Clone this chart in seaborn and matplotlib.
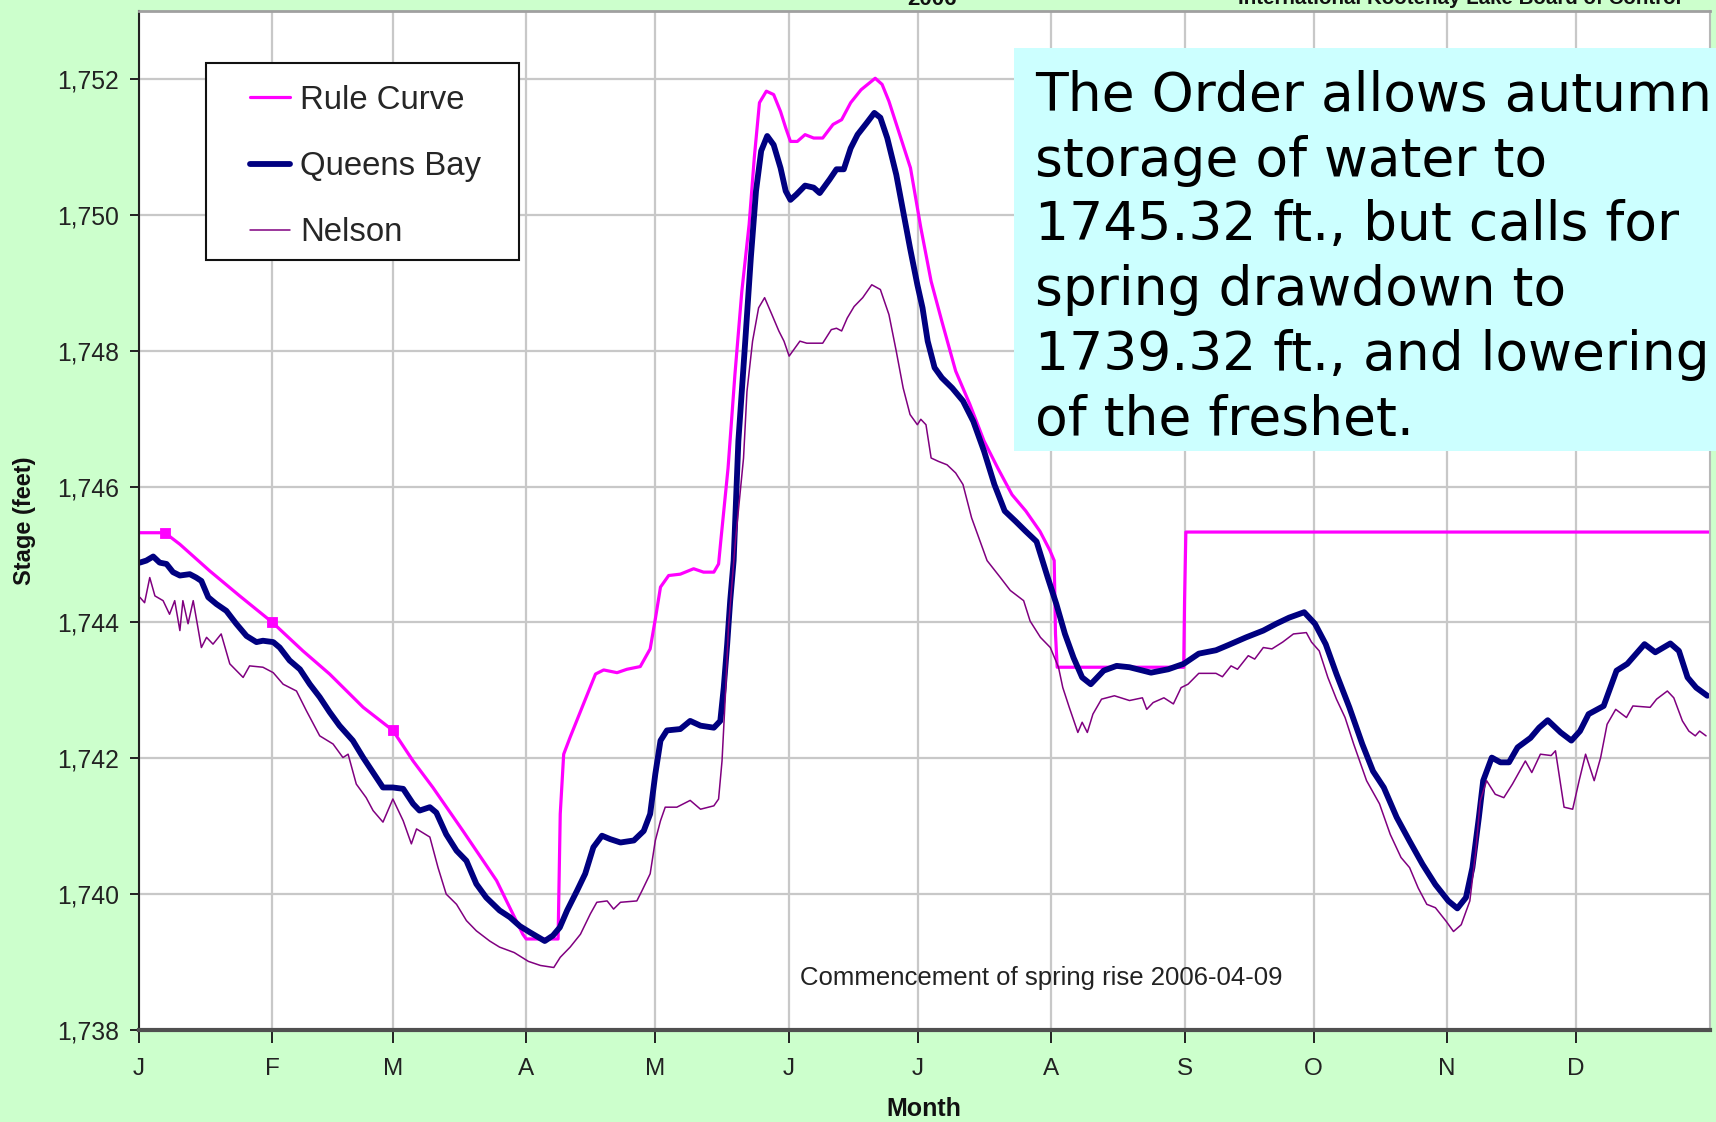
import pandas as pd
import seaborn as sns
import matplotlib.pyplot as plt
from matplotlib.patches import Rectangle
from matplotlib.ticker import FuncFormatter

# day of year (0 = Jan 1) and stage in feet
rule_days = [0, 6, 9.5, 16.4, 23.4, 31, 38.1, 44.3, 52.1, 59,
             63.7, 68.3, 75.3, 83.1, 89.2, 90, 97.4, 97.9, 98.7, 100.2,
             103.3, 106.1, 108, 111.1, 113.4, 116.5, 118.8, 120, 121.2, 123.1,
             125.8, 128.9, 131.2, 133.6, 134.7, 135.2, 136.9, 138.5, 140.1, 141.8,
             143.0, 144.2, 145.8, 147.5, 149.1, 150.3, 151.4, 153.0, 154.8, 156.8,
             158.9, 161.3, 163.3, 165.4, 167.8, 171.1, 172.7, 174.3, 176.8, 179.3,
             181.7, 184.1, 186.6, 189.8, 193.1, 196.4, 199.6, 202.9, 206.1, 209.4,
             211.7, 212.7, 213.0, 213.4, 242.8, 243.0, 243.3, 365]
rule_vals = [1745.32, 1745.32, 1745.15, 1744.76, 1744.39, 1744.00, 1743.58, 1743.24, 1742.75, 1742.41,
             1741.96, 1741.57, 1740.93, 1740.20, 1739.41, 1739.34, 1739.34, 1741.18, 1742.06, 1742.31,
             1742.80, 1743.24, 1743.30, 1743.26, 1743.31, 1743.35, 1743.61, 1744.05, 1744.52, 1744.69,
             1744.71, 1744.79, 1744.74, 1744.74, 1744.86, 1745.19, 1746.27, 1747.65, 1748.87, 1749.86,
             1750.84, 1751.65, 1751.82, 1751.77, 1751.52, 1751.28, 1751.08, 1751.08, 1751.18, 1751.13,
             1751.13, 1751.33, 1751.40, 1751.65, 1751.84, 1752.01, 1751.92, 1751.67, 1751.18, 1750.69,
             1749.81, 1749.02, 1748.43, 1747.70, 1747.21, 1746.67, 1746.27, 1745.88, 1745.64, 1745.34,
             1745.06, 1744.91, 1743.83, 1743.34, 1743.34, 1744.32, 1745.33, 1745.33]

marker_days = [6, 31, 59]
marker_vals = [1745.32, 1744.00, 1742.41]

qb_days = [0.2, 1.7, 3.3, 4.8, 6.4, 7.9, 9.5, 11.8, 13.3, 14.5,
           16.1, 18.0, 20.3, 22.6, 25.0, 27.3, 28.8, 31.2, 32.7, 35.0,
           37.4, 39.7, 42.0, 44.3, 46.6, 49.7, 52.1, 54.4, 56.7, 59.0,
           61.4, 63.7, 65.2, 67.6, 69.1, 71.4, 73.8, 76.1, 78.4, 80.7,
           83.8, 86.2, 88.5, 90.8, 94.3, 96.2, 97.8, 99.5, 101.8, 103.7,
           105.6, 107.6, 109.5, 111.9, 115.0, 117.3, 118.8, 120.0, 121.2, 122.7,
           125.8, 128.1, 130.5, 133.6, 135.1, 135.9, 136.7, 137.4, 138.2, 139.3,
           140.9, 142.2, 143.4, 144.6, 146.0, 147.5, 149.1, 150.3, 151.4, 152.8,
           154.8, 156.8, 158.2, 160.5, 162.1, 163.8, 165.4, 167.0, 169.1, 170.9,
           172.3, 173.9, 176.0, 177.6, 179.2, 180.9, 182.1, 183.3, 184.9, 186.6,
           189.0, 191.5, 193.9, 196.4, 198.8, 201.2, 203.7, 206.1, 208.6, 211.2,
           213.2, 215.2, 217.2, 219.2, 221.2, 224.2, 227.2, 230.2, 235.2, 239.2,
           242.8, 246.3, 250.3, 253.3, 257.3, 261.3, 264.3, 267.3, 270.8, 273.3,
           275.8, 278.3, 281.3, 284.3, 286.8, 289.3, 292.3, 295.3, 298.3, 301.3,
           304.3, 306.4, 308.4, 309.9, 311.4, 312.4, 314.4, 316.4, 318.4, 320.4,
           323.4, 325.4, 327.4, 330.4, 332.9, 334.9, 336.9, 340.4, 343.4, 345.9,
           349.9, 352.4, 355.9, 357.9, 359.9, 361.9, 364.5]
qb_vals = [1744.88, 1744.91, 1744.97, 1744.88, 1744.86, 1744.74, 1744.69, 1744.71, 1744.66, 1744.61,
           1744.37, 1744.27, 1744.17, 1743.98, 1743.80, 1743.71, 1743.73, 1743.71, 1743.63, 1743.44,
           1743.31, 1743.09, 1742.90, 1742.68, 1742.48, 1742.26, 1742.01, 1741.79, 1741.57, 1741.57,
           1741.55, 1741.33, 1741.23, 1741.28, 1741.20, 1740.88, 1740.64, 1740.49, 1740.15, 1739.95,
           1739.76, 1739.66, 1739.53, 1739.44, 1739.31, 1739.39, 1739.51, 1739.76, 1740.05, 1740.30,
           1740.69, 1740.86, 1740.81, 1740.76, 1740.79, 1740.93, 1741.18, 1741.77, 1742.26, 1742.41,
           1742.43, 1742.55, 1742.48, 1742.45, 1742.55, 1743.04, 1743.68, 1744.32, 1744.91, 1746.67,
           1748.14, 1749.37, 1750.35, 1750.94, 1751.16, 1751.03, 1750.69, 1750.35, 1750.22, 1750.30,
           1750.43, 1750.40, 1750.32, 1750.52, 1750.67, 1750.67, 1750.98, 1751.18, 1751.35, 1751.50,
           1751.43, 1751.13, 1750.59, 1750.05, 1749.51, 1748.97, 1748.63, 1748.14, 1747.75, 1747.60,
           1747.45, 1747.26, 1746.96, 1746.52, 1746.03, 1745.64, 1745.49, 1745.34, 1745.19, 1744.66,
           1744.27, 1743.83, 1743.48, 1743.19, 1743.09, 1743.29, 1743.36, 1743.34, 1743.26, 1743.31,
           1743.39, 1743.54, 1743.59, 1743.67, 1743.78, 1743.88, 1743.98, 1744.07, 1744.15, 1743.98,
           1743.68, 1743.24, 1742.75, 1742.21, 1741.81, 1741.57, 1741.13, 1740.78, 1740.44, 1740.14,
           1739.90, 1739.79, 1739.95, 1740.39, 1741.13, 1741.67, 1742.01, 1741.94, 1741.94, 1742.16,
           1742.30, 1742.45, 1742.56, 1742.38, 1742.26, 1742.40, 1742.65, 1742.77, 1743.29, 1743.39,
           1743.68, 1743.56, 1743.69, 1743.58, 1743.19, 1743.04, 1742.92]

nelson_days = [0.2, 1.3, 2.5, 3.7, 5.6, 7.1, 8.3, 9.5, 10.2, 11.4,
               12.6, 14.5, 15.7, 17.2, 19.1, 21.1, 24.2, 25.7, 28.8, 31.2,
               33.5, 36.6, 38.9, 42.0, 45.1, 47.4, 48.6, 50.5, 52.8, 54.4,
               56.7, 59.0, 61.4, 63.3, 64.5, 67.6, 69.5, 71.4, 73.8, 76.1,
               78.4, 81.5, 83.8, 87.2, 90.5, 93.3, 96.4, 97.9, 100.2, 102.6,
               104.9, 106.4, 108.8, 110.3, 111.9, 115.7, 116.9, 118.8, 120.0, 121.2,
               122.3, 125.0, 128.1, 130.5, 133.6, 134.7, 135.5, 136.3, 137.0,
               138.6, 140.5, 141.3, 142.6, 144.0, 145.4, 147.1, 148.7, 149.9, 151.1,
               153.6, 155.2, 158.9, 160.9, 162.1, 163.3, 164.6, 166.2, 168.2, 170.3,
               172.3, 174.3, 176.0, 177.6, 179.2, 180.9, 181.7, 182.9, 184.1, 185.8,
               187.8, 189.8, 191.5, 193.5, 195.5, 197.1, 200.2, 202.5, 205.6, 207.1,
               209.5, 211.8, 213.7, 214.7, 216.2, 218.2, 219.2, 220.4, 221.7, 223.7,
               226.7, 230.2, 233.2, 234.2, 235.7, 238.2, 240.4, 242.2, 243.8, 246.3,
               250.3, 251.8, 253.8, 255.3, 257.8, 259.3, 261.3, 263.3, 265.8, 268.3,
               271.3, 272.5, 274.3, 276.3, 278.3, 280.3, 282.3, 285.3, 288.3, 290.8,
               293.3, 295.3, 297.3, 299.3, 301.3, 303.8, 305.5, 307.3, 309.3, 310.7,
               311.7, 313.2, 315.2, 317.2, 319.2, 322.2, 323.7, 325.7, 328.2, 329.2,
               331.2, 333.2, 334.7, 336.2, 338.2, 339.7, 341.2, 343.2, 345.7, 347.2,
               351.2, 352.7, 355.2, 356.7, 358.7, 360.2, 361.7, 362.7, 364.2]
nelson_vals = [1744.37, 1744.29, 1744.66, 1744.39, 1744.32, 1744.12, 1744.32, 1743.88, 1744.32, 1743.98,
               1744.32, 1743.63, 1743.78, 1743.68, 1743.83, 1743.39, 1743.19, 1743.36, 1743.34, 1743.26,
               1743.09, 1742.99, 1742.70, 1742.33, 1742.21, 1742.01, 1742.06, 1741.62, 1741.42, 1741.23,
               1741.06, 1741.40, 1741.08, 1740.74, 1740.96, 1740.84, 1740.39, 1740.00, 1739.85, 1739.61,
               1739.46, 1739.31, 1739.22, 1739.14, 1739.01, 1738.95, 1738.92, 1739.07, 1739.22, 1739.41,
               1739.71, 1739.88, 1739.90, 1739.78, 1739.88, 1739.90, 1740.05, 1740.30, 1740.79, 1741.08,
               1741.28, 1741.28, 1741.38, 1741.25, 1741.30, 1741.40, 1741.96, 1742.95, 1743.93,
               1745.19, 1746.42, 1747.40, 1748.14, 1748.63, 1748.78, 1748.53, 1748.29, 1748.14, 1747.92,
               1748.14, 1748.11, 1748.11, 1748.31, 1748.33, 1748.29, 1748.48, 1748.65, 1748.78, 1748.97,
               1748.90, 1748.53, 1747.99, 1747.45, 1747.06, 1746.91, 1746.99, 1746.91, 1746.42, 1746.37,
               1746.32, 1746.20, 1746.03, 1745.54, 1745.19, 1744.91, 1744.66, 1744.47, 1744.32, 1744.02,
               1743.78, 1743.63, 1743.34, 1743.04, 1742.75, 1742.38, 1742.53, 1742.38, 1742.65, 1742.87,
               1742.92, 1742.85, 1742.89, 1742.72, 1742.82, 1742.89, 1742.80, 1743.04, 1743.09, 1743.25,
               1743.25, 1743.20, 1743.36, 1743.31, 1743.51, 1743.46, 1743.63, 1743.61, 1743.71, 1743.83,
               1743.85, 1743.71, 1743.58, 1743.19, 1742.87, 1742.60, 1742.21, 1741.67, 1741.33, 1740.88,
               1740.54, 1740.39, 1740.09, 1739.85, 1739.80, 1739.60, 1739.45, 1739.55, 1739.90, 1740.64,
               1741.37, 1741.67, 1741.47, 1741.42, 1741.62, 1741.96, 1741.79, 1742.06, 1742.04, 1742.11,
               1741.28, 1741.25, 1741.67, 1742.06, 1741.67, 1742.01, 1742.50, 1742.72, 1742.60, 1742.77,
               1742.75, 1742.87, 1742.99, 1742.89, 1742.55, 1742.40, 1742.33, 1742.40, 1742.33]

month_starts = [0, 31, 59, 90, 120, 151, 181, 212, 243, 273, 304, 334]
month_labels = ["J", "F", "M", "A", "M", "J", "J", "A", "S", "O", "N", "D"]
y_ticks = [1738, 1740, 1742, 1744, 1746, 1748, 1750, 1752]

note = ("The Order allows autumn\nstorage of water to\n1745.32 ft., but calls for\n"
        "spring drawdown to\n1739.32 ft., and lowering\nof the freshet.")

sns.set_theme(style="whitegrid")
plt.rcParams['font.family'] = ['Liberation Sans', 'DejaVu Sans']

W, H = 1716, 1122
fig = plt.figure(figsize=(W / 100, H / 100), dpi=100, facecolor='#CCFFCC')
ax = fig.add_axes([139 / W, 1 - 1030 / H, 1570.5 / W, 1019 / H])
ax.set_facecolor('white')

rule = pd.DataFrame({"day": rule_days, "stage": rule_vals})
qb = pd.DataFrame({"day": qb_days, "stage": qb_vals})
nelson = pd.DataFrame({"day": nelson_days, "stage": nelson_vals})

sns.lineplot(data=rule, x="day", y="stage", color="#FF00FF", lw=2.3,
             estimator=None, sort=False, ax=ax, label="Rule Curve")
sns.scatterplot(x=marker_days, y=marker_vals, marker="s", s=55, color="#FF00FF",
                edgecolor="#FF00FF", legend=False, ax=ax, zorder=3)
sns.lineplot(data=qb, x="day", y="stage", color="#000080", lw=4.2,
             estimator=None, sort=False, ax=ax, label="Queens Bay")
sns.lineplot(data=nelson, x="day", y="stage", color="#800080", lw=1.1,
             estimator=None, sort=False, ax=ax, label="Nelson")

ax.set_xlim(0, 365)
ax.set_ylim(1738, 1753)
ax.set_xticks(month_starts)
ax.set_xticklabels(month_labels)
ax.set_yticks(y_ticks)
ax.yaxis.set_major_formatter(FuncFormatter(lambda v, p: f"{v:,.0f}"))
ax.grid(True, color="#C8C8C8", lw=1.6)
ax.tick_params(axis="x", bottom=True, length=9.5, width=1.4, color="#222222",
               pad=10.5, labelsize=17.5, labelcolor="#222222")
ax.tick_params(axis="y", left=True, length=6.5, width=1.4, color="#222222",
               pad=8, labelsize=17.8, labelcolor="#222222")

for side, col, w in [("left", "#222222", 1.5), ("bottom", "#505050", 3),
                     ("top", "#A0A0A0", 2), ("right", "#B8B8B8", 1.5)]:
    ax.spines[side].set_visible(True)
    ax.spines[side].set_color(col)
    ax.spines[side].set_linewidth(w)

ax.set_xlabel("Month", fontsize=18, fontweight="bold", color="#111111")
ax.xaxis.set_label_coords(0.5, -0.0775)
ax.xaxis.label.set_va("center")
ax.set_ylabel("Stage (feet)", fontsize=17, fontweight="bold", color="#111111")
ax.yaxis.set_label_coords(-0.0732, 0.5)
ax.yaxis.label.set_va("center")

ax.text(153.6, 1738.66, "Commencement of spring rise 2006-04-09",
        fontsize=18.5, color="#222222", va="baseline", ha="left")

# legend with its own frame
ax.add_patch(Rectangle((206 / W, 1 - 260 / H), 313 / W, 197 / H,
                       transform=fig.transFigure, facecolor="white",
                       edgecolor="#111111", lw=1.5, zorder=4))
leg = ax.legend(loc="upper left", bbox_to_anchor=(250 / W, 1 - 85 / H),
                bbox_transform=fig.transFigure, frameon=False, borderpad=0,
                borderaxespad=0, fontsize=23.7, handlelength=1.23,
                handletextpad=0.3, labelspacing=1.07)
leg.set_zorder(5)

# note box on the right
fig.add_artist(Rectangle((1014 / W, 1 - 451 / H), 0.5, 403 / H,
                         transform=fig.transFigure, facecolor="#CCFFFF",
                         edgecolor="none", zorder=10))
fig.text(1035 / W, 1 - 70 / H, note, fontsize=38.5, family="DejaVu Sans",
         color="black", va="top", ha="left", linespacing=1.31, zorder=11)

# titles cut off at the top edge
fig.text(932 / W, 1 - 5 / H, "2006", ha="center", va="baseline",
         fontsize=16, fontweight="bold", color="#111111")
fig.text(1681 / W, 1 - 4 / H, "International Kootenay Lake Board of Control",
         ha="right", va="baseline", fontsize=14.8, fontweight="bold", color="#111111")

fig.savefig("out.png", dpi=100, facecolor=fig.get_facecolor())
